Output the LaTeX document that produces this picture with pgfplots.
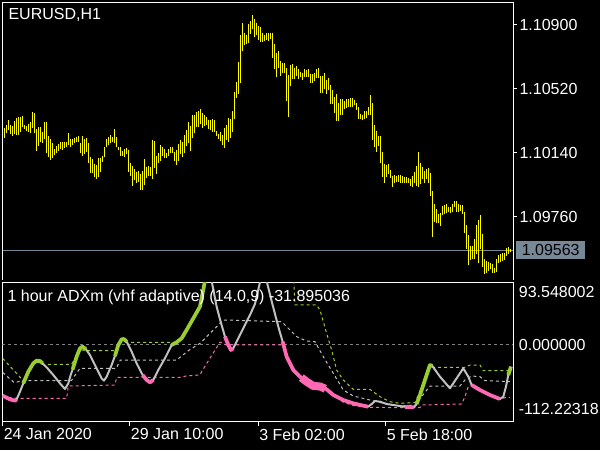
\documentclass[border=0pt]{standalone}
\usepackage{pgfplots}
\pgfplotsset{compat=1.18}
\usepackage{pgfplotstable}
\usepackage{fontspec}
\setmainfont{Liberation Sans}
\definecolor{lsg}{RGB}{119,136,153}
\definecolor{bary}{RGB}{255,255,0}
\definecolor{ygreen}{RGB}{154,205,50}
\definecolor{hpink}{RGB}{255,105,180}
\definecolor{silv}{RGB}{192,192,192}
\definecolor{dgray}{RGB}{128,128,128}
\newcommand{\mtfont}{\fontsize{12}{14}\selectfont}
\pgfplotstableread{
lo hi
1.10227 1.10286
1.10257 1.10306
1.10277 1.10336
1.10253 1.10306
1.10243 1.10300
1.10253 1.10330
1.10247 1.10346
1.10247 1.10352
1.10267 1.10352
1.10292 1.10360
1.10280 1.10306
1.10273 1.10300
1.10267 1.10312
1.10261 1.10322
1.10286 1.10383
1.10257 1.10375
1.10154 1.10282
1.10182 1.10294
1.10207 1.10294
1.10201 1.10263
1.10221 1.10322
1.10142 1.10322
1.10118 1.10241
1.10098 1.10223
1.10108 1.10201
1.10128 1.10162
1.10142 1.10182
1.10154 1.10193
1.10162 1.10203
1.10158 1.10207
1.10172 1.10207
1.10178 1.10203
1.10187 1.10257
1.10174 1.10223
1.10187 1.10223
1.10197 1.10227
1.10207 1.10235
1.10207 1.10241
1.10138 1.10201
1.10124 1.10241
1.10134 1.10221
1.10148 1.10227
1.10079 1.10197
1.10023 1.10118
1.10023 1.10104
1.09999 1.10073
1.09984 1.10067
1.09995 1.10112
1.10025 1.10112
1.10088 1.10122
1.10114 1.10178
1.10174 1.10223
1.10187 1.10233
1.10201 1.10245
1.10207 1.10235
1.10201 1.10282
1.10178 1.10235
1.10158 1.10178
1.10124 1.10174
1.10124 1.10152
1.10114 1.10162
1.10134 1.10172
1.10029 1.10158
1.10003 1.10083
1.09946 1.10063
1.09980 1.10045
1.09960 1.10025
1.09970 1.10033
1.09920 1.10015
1.09920 1.10033
1.09950 1.10104
1.09990 1.10059
1.10005 1.10063
1.10005 1.10055
1.09986 1.10217
1.10049 1.10211
1.10015 1.10124
1.10083 1.10138
1.10092 1.10187
1.10124 1.10178
1.10112 1.10162
1.10112 1.10142
1.10124 1.10162
1.10140 1.10178
1.10138 1.10178
1.10094 1.10144
1.10069 1.10158
1.10094 1.10191
1.10132 1.10217
1.10118 1.10205
1.10142 1.10245
1.10182 1.10277
1.10197 1.10322
1.10154 1.10302
1.10231 1.10366
1.10261 1.10366
1.10292 1.10381
1.10296 1.10389
1.10312 1.10401
1.10286 1.10375
1.10300 1.10366
1.10306 1.10356
1.10280 1.10336
1.10277 1.10336
1.10265 1.10340
1.10267 1.10336
1.10243 1.10271
1.10221 1.10253
1.10211 1.10263
1.10187 1.10247
1.10172 1.10286
1.10217 1.10306
1.10207 1.10350
1.10227 1.10342
1.10267 1.10389
1.10342 1.10504
1.10468 1.10562
1.10490 1.10682
1.10558 1.10841
1.10748 1.10910
1.10781 1.10854
1.10787 1.10841
1.10795 1.10906
1.10847 1.10924
1.10874 1.10959
1.10827 1.10936
1.10841 1.10914
1.10811 1.10894
1.10801 1.10886
1.10801 1.10854
1.10807 1.10841
1.10811 1.10850
1.10807 1.10854
1.10815 1.10850
1.10706 1.10854
1.10637 1.10787
1.10593 1.10736
1.10643 1.10748
1.10597 1.10686
1.10617 1.10676
1.10617 1.10676
1.10451 1.10643
1.10352 1.10603
1.10540 1.10662
1.10579 1.10668
1.10579 1.10647
1.10597 1.10657
1.10577 1.10639
1.10593 1.10623
1.10573 1.10617
1.10593 1.10637
1.10593 1.10631
1.10593 1.10641
1.10558 1.10611
1.10558 1.10607
1.10569 1.10617
1.10583 1.10637
1.10583 1.10647
1.10494 1.10597
1.10498 1.10597
1.10518 1.10617
1.10490 1.10573
1.10514 1.10583
1.10431 1.10544
1.10431 1.10514
1.10375 1.10470
1.10332 1.10490
1.10332 1.10435
1.10366 1.10461
1.10366 1.10459
1.10399 1.10451
1.10405 1.10459
1.10415 1.10461
1.10415 1.10465
1.10415 1.10465
1.10425 1.10455
1.10395 1.10439
1.10342 1.10411
1.10340 1.10372
1.10336 1.10366
1.10342 1.10389
1.10350 1.10389
1.10366 1.10411
1.10366 1.10484
1.10217 1.10435
1.10178 1.10306
1.10148 1.10273
1.10182 1.10243
1.10079 1.10241
1.09999 1.10144
1.09964 1.10075
1.09999 1.10069
1.10013 1.10075
1.09990 1.10039
1.09940 1.10005
1.09964 1.10009
1.09970 1.10005
1.09970 1.10009
1.09964 1.10009
1.09960 1.10005
1.09964 1.09999
1.09960 1.09995
1.09960 1.09990
1.09944 1.09984
1.09940 1.10003
1.09960 1.10029
1.09944 1.10065
1.09940 1.10144
1.09956 1.10083
1.09984 1.10059
1.09964 1.10035
1.09986 1.10043
1.09960 1.10053
1.09887 1.10023
1.09643 1.09914
1.09732 1.09837
1.09722 1.09807
1.09722 1.09778
1.09708 1.09782
1.09772 1.09825
1.09778 1.09831
1.09782 1.09837
1.09792 1.09821
1.09782 1.09817
1.09792 1.09837
1.09821 1.09855
1.09792 1.09855
1.09792 1.09835
1.09798 1.09831
1.09776 1.09831
1.09667 1.09792
1.09568 1.09712
1.09475 1.09653
1.09505 1.09588
1.09509 1.09590
1.09509 1.09627
1.09540 1.09712
1.09489 1.09742
1.09568 1.09772
1.09465 1.09659
1.09422 1.09509
1.09426 1.09501
1.09441 1.09495
1.09449 1.09485
1.09426 1.09481
1.09426 1.09459
1.09435 1.09509
1.09485 1.09534
1.09495 1.09540
1.09501 1.09544
1.09505 1.09548
1.09530 1.09578
1.09540 1.09580
1.09554 1.09570
}\bars
\pgfplotstableread{
i v
-0.83 -88.7
2.83 -95.1
5.33 -97.4
6.17 -95.1
7.83 -81.7
9.5 -67.1
12 -46.7
14.5 -32.1
16.17 -27.4
17.83 -28.0
19.17 -32.1
21.17 -39.1
24.5 -52.5
27.83 -67.1
30.33 -77.0
32 -67.1
33.17 -52.5
34.17 -42.6
36.17 -20.4
37.83 -5.8
39.17 -2.9
40.83 -7.6
42.83 -17.5
46.17 -40.8
48.67 -58.3
49.83 -62.4
51.17 -55.4
53.67 -35.0
55.33 -19.2
57 0.0
58.67 9.9
59.83 10.5
61.17 5.8
63.67 -11.7
66.17 -32.1
69.17 -52.5
71.17 -61.2
72.83 -65.3
74.5 -61.2
77 -43.7
80.33 -23.3
83.67 0.0
86.17 4.7
88.67 11.7
91.17 26.3
94.5 46.7
97.83 67.1
100.5 115
103.5 115
106.17 67.1
108.17 40.8
110.33 14.6
112 0
113.33 -8.75
114.5 -5.8
116.17 5.8
119.5 29.2
122.83 52.5
125.33 71.75
129.5 135
134.17 70
137 32.1
139.17 5.8
141.17 -20.4
144.5 -43.75
147.83 -55.4
151.17 -64.2
154.5 -71.7
157.83 -71.7
161.17 -77.6
164.5 -87.5
169.5 -96.25
174.5 -102.1
179.5 -106.2
182 -107.9
183.67 -103.2
185.33 -98.0
187.83 -99.2
191.17 -103.2
197.83 -106.75
201.17 -108.5
204.83 -109.1
206.17 -103.2
207.83 -87.5
210.33 -61.25
212.83 -35.0
214 -36.75
217.83 -55.4
222.83 -75.8
226.17 -58.3
229.5 -40.8
232 -55.4
233.67 -70
237.83 -78.75
242.83 -87.5
247.83 -94.5
249.5 -90.4
250.83 -72.9
252 -52.5
253.33 -37.9
}\mainline
\pgfplotstableread{
i v
9.5 -67.1
12 -46.7
14.5 -32.1
16.17 -27.4
17.83 -28.0
19.17 -32.1
nan nan
34.17 -42.6
36.17 -20.4
37.83 -5.8
39.17 -2.9
40.83 -7.6
nan nan
55.33 -19.2
57 0
58.67 9.9
59.83 10.5
61.17 5.8
nan nan
83.67 0
86.17 4.7
88.67 11.7
91.17 26.3
94.5 46.7
97.83 67.1
100.5 115
nan nan
206.17 -103.2
207.83 -87.5
210.33 -61.25
212.83 -35.0
214 -36.75
nan nan
252 -52.5
253.33 -37.9
}\greenseg
\pgfplotstableread{
i v
-0.83 -88.7
2.83 -95.1
5.33 -97.4
6.17 -95.1
nan nan
69.17 -52.5
71.17 -61.2
72.83 -65.3
74.5 -61.2
nan nan
110.33 14.6
112 0
113.33 -8.75
114.5 -5.8
nan nan
139.17 5.8
141.17 -20.4
144.5 -43.75
147.83 -55.4
151.17 -64.2
154.5 -71.7
157.83 -71.7
161.17 -77.6
164.5 -87.5
169.5 -96.25
174.5 -102.1
179.5 -106.2
182 -107.9
nan nan
200.3 -108.3
204.83 -109.1
nan nan
233.67 -70
237.83 -78.75
242.83 -87.5
247.83 -94.5
}\pinkseg
\pgfplotstableread{
i v
-0.83 -23.3
9.5 -62.4
12 -46.7
14.5 -32.1
17.83 -30
19.17 -34
33.5 -34
36.17 -20.4
37.83 -8
40.83 -9.9
55.33 -9.9
57 0
58.67 4.7
84 4.7
86.17 4.7
88.67 11.7
91.17 26.3
94.5 46.7
97.83 67.1
101 130
144.5 130
145.33 70
156.17 70
157.83 61.25
161.17 20.4
163.67 -8.75
166.17 -43.75
169.5 -61.25
174.5 -77.6
182.83 -77.6
187.83 -90.4
192.83 -99.2
197.83 -102.1
205.33 -100.9
212.83 -39.1
230.33 -39.1
232.83 -35
237.83 -35
239.5 -44.9
252.83 -44.9
}\greenlev
\pgfplotstableread{
i v
-0.83 -48
5 -66
9 -62.4
33.5 -62.4
37.83 -40.8
56 -40.8
58 -26.25
86.17 -26.25
92 -10
97.83 2.9
107.83 37.9
110.33 43.75
138.67 40.8
146.17 14.6
151.17 7
155.33 5.8
159.5 -20.4
164.5 -49.6
169.5 -78.75
174.5 -89.25
182.83 -96.25
191.17 -103.2
197.83 -106.75
205.33 -105
212.83 -71.75
227.83 -71.75
230.33 -61.25
233.67 -54.25
237.83 -55.4
240.33 -62.4
252.83 -64.2
}\graylev
\pgfplotstableread{
i v
-0.83 -90
6.17 -93.3
31.17 -93.3
32 -71.75
55.33 -70
56.17 -56.6
87.83 -56.6
91.17 -54
97.83 -52.5
98.67 -46.7
107.83 5
111 0
139.17 0
141.17 -20.4
144.5 -43.75
147.83 -55.4
151.17 -64.2
154.5 -71.7
157.83 -71.7
161.17 -77.6
164.5 -87.5
169.5 -100
174.5 -106
182 -109
197.83 -109.6
207.83 -109.6
208.67 -105
228.67 -103.2
230.33 -90.4
232 -72.9
233.67 -70
237.83 -78.75
242.83 -87.5
247.83 -94.5
251.17 -91.6
252.83 -91.6
}\pinklev
\begin{document}
\begin{tikzpicture}
\useasboundingbox (0,0) rectangle (450pt,337.5pt);
\fill[black] (0,0) rectangle (450pt,337.5pt);
\begin{scope}
\clip (0,0) rectangle (450pt,337.5pt);
% ---------- price pane ----------
\begin{axis}[
  at={(1.725pt,127.5pt)}, anchor=south west,
  scale only axis, width=383.25pt, height=208.275pt,
  xmin=-1, xmax=254.5, ymin=1.093859, ymax=1.110347,
  axis line style={draw=none},
  xtick=\empty,
  ytick={1.0976,1.1014,1.1052,1.109},
  ytick pos=right, tick align=outside, major tick length=3pt,
  tick style={white, line width=0.75pt},
  scaled y ticks=false,
  yticklabel={\pgfmathprintnumber[fixed,fixed zerofill,precision=5]{\tick}},
  /pgf/number format/assume math mode=true,
  yticklabel style={anchor=west, inner sep=0pt, xshift=1.5pt, text=white, font=\mtfont},
]
\addplot[lsg, line width=0.75pt, forget plot] coordinates {(-1,1.09563) (254.5,1.09563)};
\addplot[draw=none, mark=none, forget plot,
  error bars/.cd, y dir=minus, y explicit, error mark=none,
  error bar style={draw=bary, solid, line width=0.8pt}]
  table[x expr=\coordindex, y=hi, y error expr=\thisrow{hi}-\thisrow{lo}] {\bars};
\coordinate (bid) at (axis cs:254.5,1.09563);
\end{axis}
\draw[white, line width=0.75pt] (1.725pt,127.5pt) -- (1.725pt,335.775pt) -- (384.975pt,335.775pt) -- (384.975pt,127.5pt);
\node[fill=lsg, text=black, anchor=west, inner sep=0pt, minimum width=51.75pt, minimum height=13.5pt, font=\mtfont] at ([xshift=2pt]bid) {1.09563};
\node[anchor=base west, inner sep=0pt, text=white, font=\mtfont] at (6.2pt,322.5pt) {EURUSD,H1};
% ---------- indicator pane ----------
\begin{axis}[
  at={(1.725pt,21.225pt)}, anchor=south west,
  scale only axis, width=383.25pt, height=104.25pt,
  xmin=-1, xmax=254.5, ymin=-134.2, ymax=109,
  axis line style={white, line width=0.75pt},
  xtick={-0.8,62.8,127,190.7},
  xticklabels={24 Jan 2020, 29 Jan 10:00, 3 Feb 02:00, 5 Feb 18:00},
  xtick pos=left, ytick pos=right,
  tick align=outside, major tick length=3pt,
  xtick style={white, line width=0.75pt},
  ytick style={draw=none},
  ytick={-112.22318,0,93.548002},
  yticklabels={-112.22318,0.000000,93.548002},
  xticklabel style={anchor=north west, inner sep=0pt, text=white, font=\mtfont, xshift=0.6pt, yshift=-2pt},
  yticklabel style={anchor=west, inner sep=0pt, xshift=1pt, text=white, font=\mtfont},
  unbounded coords=jump,
]
\addplot[dgray, line width=0.75pt, dash pattern=on 2.25pt off 2.25pt] coordinates {(-1,0) (254.5,0)};
\addplot[ygreen, line width=0.75pt, dash pattern=on 2.25pt off 2.25pt] table[x=i,y=v] {\greenlev};
\addplot[silv, line width=0.75pt, dash pattern=on 2.25pt off 2.25pt] table[x=i,y=v] {\graylev};
\addplot[hpink, line width=0.75pt, dash pattern=on 2.25pt off 2.25pt] table[x=i,y=v] {\pinklev};
\addplot[silv, line width=1.5pt, line join=round] table[x=i,y=v] {\mainline};
\addplot[ygreen, line width=2.8pt, line join=round] table[x=i,y=v] {\greenseg};
\addplot[hpink, line width=2.8pt, line join=round] table[x=i,y=v] {\pinkseg};
\addplot[hpink, line width=6pt, line join=round] coordinates {(148.5,-57) (151.17,-64.2) (154.5,-71.7) (157.83,-72.5) (160.5,-76.5)};
\end{axis}
\node[anchor=base west, inner sep=0pt, text=white, font=\mtfont] at (5.5pt,111.2pt) {1 hour ADXm (vhf adaptive) (14.0,9) -31.895036};
\end{scope}
\end{tikzpicture}
\end{document}
